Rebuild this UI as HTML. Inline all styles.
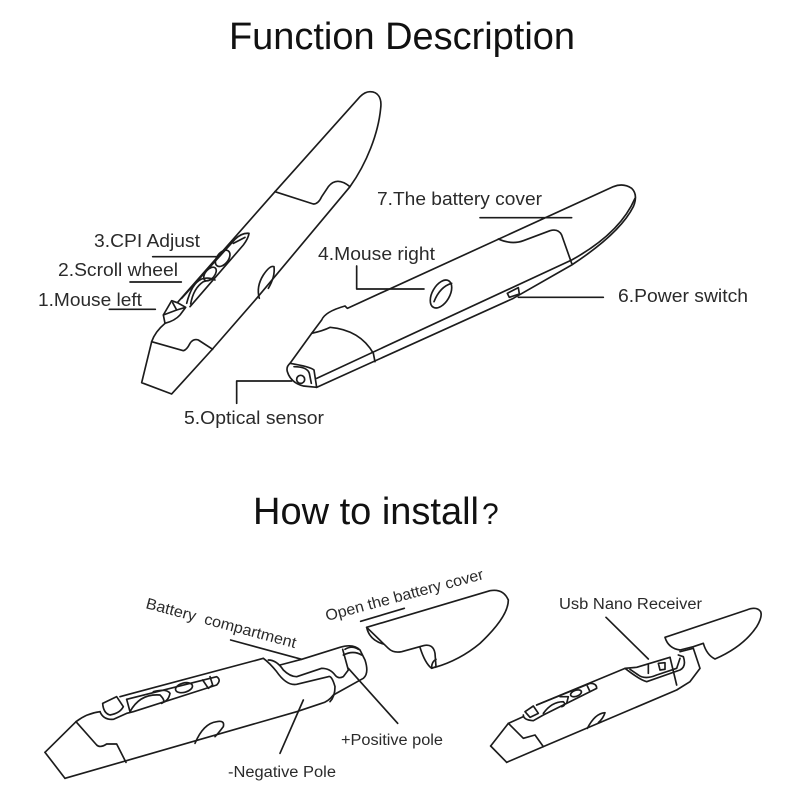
<!DOCTYPE html>
<html><head><meta charset="utf-8"><style>
html,body{margin:0;padding:0;background:#fff}
svg{display:block}
text{font-family:"Liberation Sans","Noto Sans CJK SC",sans-serif;fill:#2a2a2a}
.l{fill:none;stroke:#1c1c1c;stroke-width:5;stroke-linejoin:round;stroke-linecap:round}
.t{font-size:18px}
.s{font-size:15.5px}
.h{font-size:38px;fill:#111}
</style></head><body>
<svg width="800" height="800" viewBox="0 0 800 800" xmlns="http://www.w3.org/2000/svg">
<text class="h" x="229" y="49" textLength="346" lengthAdjust="spacingAndGlyphs">Function Description</text>
<text class="h" x="253" y="524" textLength="226" lengthAdjust="spacingAndGlyphs">How to install</text>
<text class="h" x="482" y="524" style="font-size:30px">?</text>

<g transform="translate(20,80) scale(.33333)">
<g class="l">
<path d="M1050 35C1075 35 1086 55 1082 85C1075 160 1040 250 990 320L710 655L575 810L455 942L365 908L395 785Q405 755 435 730L430 705L455 662L472 668L765 335L1020 50Q1035 35 1050 35Z"/>
<path d="M765 335L880 372Q895 372 905 350L925 320Q950 288 990 320"/>
<path d="M395 785L490 812Q500 810 510 790Q520 775 535 780L578 808"/>
<path d="M718 655Q708 620 730 585Q750 555 762 560Q766 590 745 625"/>
<path d="M435 730Q465 722 480 705L497 682L472 668M430 705L470 690L497 682M458 668L470 690"/>
<path d="M510 680L670 495Q685 475 687 460Q665 458 645 478L485 655"/>
<ellipse cx="608" cy="535" rx="28" ry="17" transform="rotate(-52 608 535)"/>
<ellipse cx="570" cy="582" rx="24" ry="14" transform="rotate(-50 570 582)"/>
<path d="M640 490L675 472"/>
<path d="M500 670Q515 610 545 597Q565 590 585 600M512 672Q520 625 550 605L580 597"/>
<path d="M398 530H590M330 606H484M268 688H406"/>
<path d="M650 970V903H815"/>
</g>
</g>

<g transform="translate(270,170) scale(.33333)">
<g class="l">
<path d="M60 580L125 490L155 450Q165 425 225 408L232 415L1030 50Q1060 38 1085 55Q1105 75 1090 110Q1050 190 905 285L730 385L140 652"/>
<path d="M60 580Q48 590 52 605Q62 638 100 648L140 652L132 600Q120 590 60 580Z"/>
<path d="M140 625L905 270Q1050 190 1095 85"/>
<circle cx="92" cy="628" r="12"/>
<path d="M72 590Q112 590 118 610L124 640"/>
<path d="M685 207Q725 225 760 212L840 182Q865 175 875 195L905 280"/>
<path d="M125 490Q160 482 180 472Q270 480 310 550L315 575"/>
<ellipse cx="513" cy="372" rx="46" ry="26" transform="rotate(-60 513 372)"/>
<path d="M492 395Q510 350 545 340"/>
<path d="M712 370L745 353L748 372L718 382Z"/>
<path d="M260 288V357H462M630 143H905M745 382H1000"/>
</g>
</g>

<g class="l" transform="translate(20,560) scale(.33333)">
<path d="M75 577L168 485Q200 460 240 455M135 655L830 455L905 430Q925 425 940 405L1030 355Q1048 340 1035 300L1020 270Q1000 250 960 262L845 298L780 315M300 410L730 295"/>
<path d="M75 577L135 655M168 485L230 555Q240 565 260 552L290 552L318 607"/>
<path d="M730 295Q750 310 770 335Q800 378 830 373L925 350Q935 345 945 380Q945 410 930 425"/>
<path d="M745 300Q770 300 790 330Q810 350 830 350L905 325Q930 325 945 345Q955 358 970 350L985 330L968 268"/>
<path d="M970 285Q1000 270 1025 285M975 268Q995 255 1015 268"/>
<path d="M240 455Q250 480 280 478L320 460L340 455L590 375Q605 360 590 350L320 418M248 430L290 410L310 440Q300 460 270 465Q250 460 248 430Z"/>
<path d="M330 455Q360 400 420 405Q440 425 425 430M320 418L330 455M400 395Q440 385 450 400Q445 425 425 428"/>
<ellipse cx="492" cy="383" rx="26" ry="14" transform="rotate(-15 492 383)"/>
<path d="M548 360L565 385L578 375L570 350"/>
<path d="M525 550Q550 490 590 485Q615 480 610 500Q595 520 585 530"/>
<path d="M632 240L845 298M850 420L780 580M985 325L1133 490"/>
<path d="M1022 184L1153 145"/>
</g>

<g class="l" transform="translate(320,560) scale(.33333)">
<path d="M140 202L510 92Q550 85 565 120Q565 170 480 250Q420 300 345 322M140 202Q148 240 190 252"/>
<path d="M140 202L205 265Q220 280 245 275L310 257Q340 250 345 280L348 320L335 325Q315 310 300 262"/>
<path d="M335 322Q335 305 348 298"/>
</g>

<g class="l" transform="translate(480,580) scale(.33333)">
<path d="M32 498L85 430L130 410M80 547L190 500L590 330L630 305L660 265L640 205L600 215M170 375L435 265L470 262L570 232"/>
<path d="M32 498L80 547M85 430L130 475L165 465L190 500"/>
<path d="M130 405Q130 420 160 422L190 405L350 325Q350 310 330 310L170 375M135 395L160 378L175 400L150 412Z"/>
<path d="M190 400Q215 365 250 365Q260 375 245 380M240 350L265 350L260 370"/>
<ellipse cx="288" cy="340" rx="17" ry="9" transform="rotate(-20 288 340)"/>
<path d="M322 318L330 335"/>
<path d="M322 445Q345 400 375 398Q370 415 355 428"/>
<path d="M435 265Q480 300 500 305L600 270Q620 260 610 230L595 225M450 268L475 285Q495 300 530 285L590 265L600 235M570 232L590 315"/>
<path d="M505 255L505 280M535 250L555 248L555 268L540 270Z"/>
<path d="M555 172L800 90Q830 78 842 95Q848 110 830 140Q790 200 705 237Q680 225 670 190L640 200L600 210Q565 205 555 172Z"/>
<path d="M378 112L505 237"/>
</g>

<text class="t" x="94" y="247" textLength="106" lengthAdjust="spacingAndGlyphs">3.CPI Adjust</text>
<text class="t" x="58" y="276" textLength="120" lengthAdjust="spacingAndGlyphs">2.Scroll wheel</text>
<text class="t" x="38" y="306" textLength="104" lengthAdjust="spacingAndGlyphs">1.Mouse left</text>
<text class="t" x="377" y="205" textLength="165" lengthAdjust="spacingAndGlyphs">7.The battery cover</text>
<text class="t" x="318" y="260" textLength="117" lengthAdjust="spacingAndGlyphs">4.Mouse right</text>
<text class="t" x="618" y="302" textLength="130" lengthAdjust="spacingAndGlyphs">6.Power switch</text>
<text class="t" x="184" y="424" textLength="140" lengthAdjust="spacingAndGlyphs">5.Optical sensor</text>
<text class="s" transform="translate(145,608) rotate(15)" textLength="155" lengthAdjust="spacingAndGlyphs" xml:space="preserve">Battery  compartment</text>
<text class="s" transform="translate(327,621) rotate(-15)" textLength="163" lengthAdjust="spacingAndGlyphs">Open the battery cover</text>
<text class="s" x="559" y="609" textLength="143" lengthAdjust="spacingAndGlyphs">Usb Nano Receiver</text>
<text class="s" x="341" y="745" textLength="102" lengthAdjust="spacingAndGlyphs">+Positive pole</text>
<text class="s" x="228" y="777" textLength="108" lengthAdjust="spacingAndGlyphs">-Negative Pole</text>
</svg>
</body></html>
